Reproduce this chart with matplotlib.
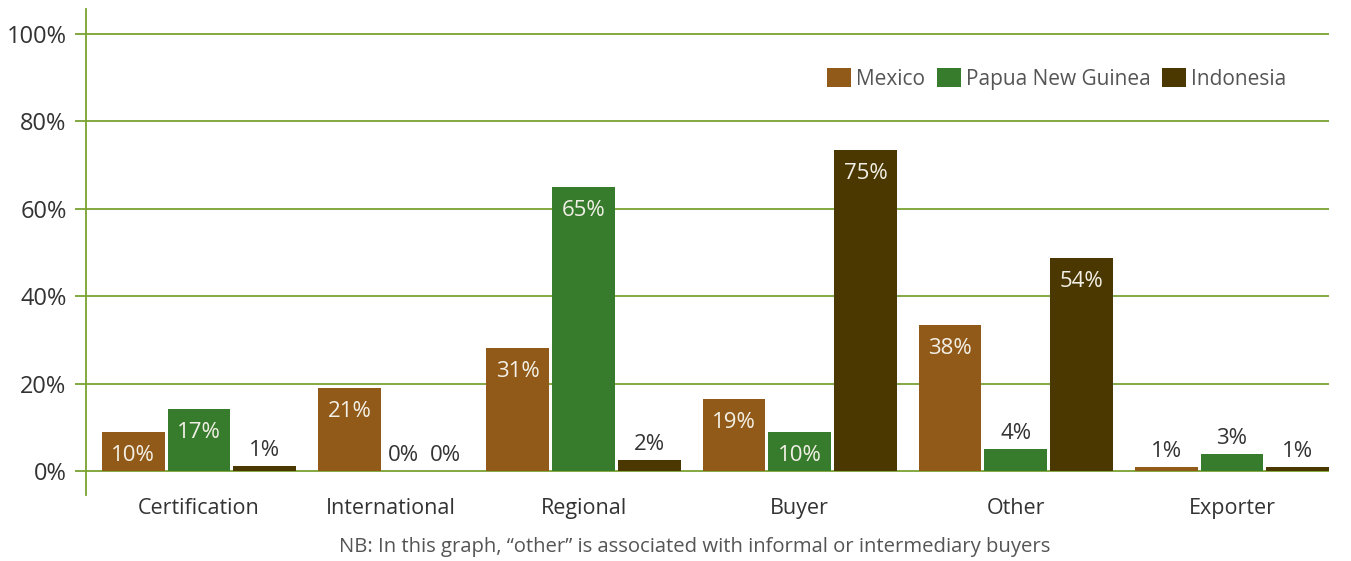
import matplotlib
matplotlib.use("Agg")
import matplotlib.pyplot as plt
from matplotlib.patches import Patch

plt.rcParams.update({
    "font.family": ["Open Sans", "DejaVu Sans"],
    "figure.dpi": 100,
})

categories = ["Certification", "International", "Regional", "Buyer", "Other", "Exporter"]
series = ["Mexico", "Papua New Guinea", "Indonesia"]

# bar heights as drawn in the reference (%)
mexico = [8.9, 19.0, 28.1, 16.5, 33.4, 0.9]
png = [14.2, 0.0, 65.0, 8.9, 5.0, 3.9]
indonesia = [1.1, 0.0, 2.5, 73.5, 48.7, 0.9]

# value labels printed on the bars
mexico_labels = ["10%", "21%", "31%", "19%", "38%", "1%"]
png_labels = ["17%", "0%", "65%", "10%", "4%", "3%"]
indonesia_labels = ["1%", "0%", "2%", "75%", "54%", "1%"]

yticks = [0, 20, 40, 60, 80, 100]
note = "NB: In this graph, \u201cother\u201d is associated with informal or intermediary buyers"

COLORS = ["#925a19", "#377b2d", "#4a3800"]
GRID = "#7aa232"
TEXT = "#333333"
LIGHT = "#f2f0e6"

# layout: zero-value bars are drawn narrower, like the original
BAR_W = 1.0
ZERO_W = 0.62
GAP = 0.048
GROUP_GAP = 0.35

values = [mexico, png, indonesia]
labels = [mexico_labels, png_labels, indonesia_labels]

centers = [[] for _ in series]
widths = [[] for _ in series]
group_centers = []
x = 0.0
for i in range(len(categories)):
    start = x
    for j in range(len(series)):
        w = BAR_W if values[j][i] > 0 else ZERO_W
        centers[j].append(x + w / 2)
        widths[j].append(w)
        x += w + GAP
    end = x - GAP
    group_centers.append((start + end) / 2)
    x = end + GROUP_GAP
x_end = end

fig = plt.figure(figsize=(13.51, 5.61))
ax = fig.add_axes([86 / 1351, 1 - 495 / 561, (1329 - 86) / 1351, (495 - 9) / 561])

for j, name in enumerate(series):
    ax.bar(centers[j], values[j], width=widths[j], color=COLORS[j],
           linewidth=0, label=name, zorder=3)
    for cx, h, lab in zip(centers[j], values[j], labels[j]):
        if h > 6:
            ax.annotate(lab, (cx, h), xytext=(0, -17), textcoords="offset points",
                        ha="center", va="center", fontsize=16, color=LIGHT, zorder=4)
        else:
            ax.annotate(lab, (cx, h), xytext=(0, 11), textcoords="offset points",
                        ha="center", va="center", fontsize=16, color=TEXT, zorder=4)

ax.set_xlim(-16 / 63, x_end)
ax.set_ylim(-5.5, 105.7)
ax.set_yticks(yticks)
ax.set_yticklabels([f"{t}%" for t in yticks])
ax.yaxis.grid(True, color=GRID, linewidth=1.3)
ax.set_axisbelow(True)
ax.tick_params(axis="y", length=8, width=1.3, color=GRID, pad=6,
               labelsize=17, labelcolor=TEXT)
ax.set_xticks(group_centers)
ax.set_xticklabels(categories)
ax.tick_params(axis="x", length=0, pad=2.5, labelsize=15.5, labelcolor=TEXT)

for s in ["top", "right", "bottom"]:
    ax.spines[s].set_visible(False)
ax.spines["left"].set_color(GRID)
ax.spines["left"].set_linewidth(1.3)

handles = [Patch(facecolor=c, label=n) for c, n in zip(COLORS, series)]
fig.legend(handles=handles, loc="center right", bbox_to_anchor=(1297 / 1351, 1 - 79 / 561),
           ncol=3, frameon=False, fontsize=15, handlelength=1.15, handleheight=1.0,
           handletextpad=0.25, columnspacing=0.55, borderpad=0, labelcolor="#555555")

fig.text(695 / 1351, 1 - 547 / 561, note, ha="center", va="center",
         fontsize=14.6, color="#555555")

fig.savefig("out.png", dpi=100)
